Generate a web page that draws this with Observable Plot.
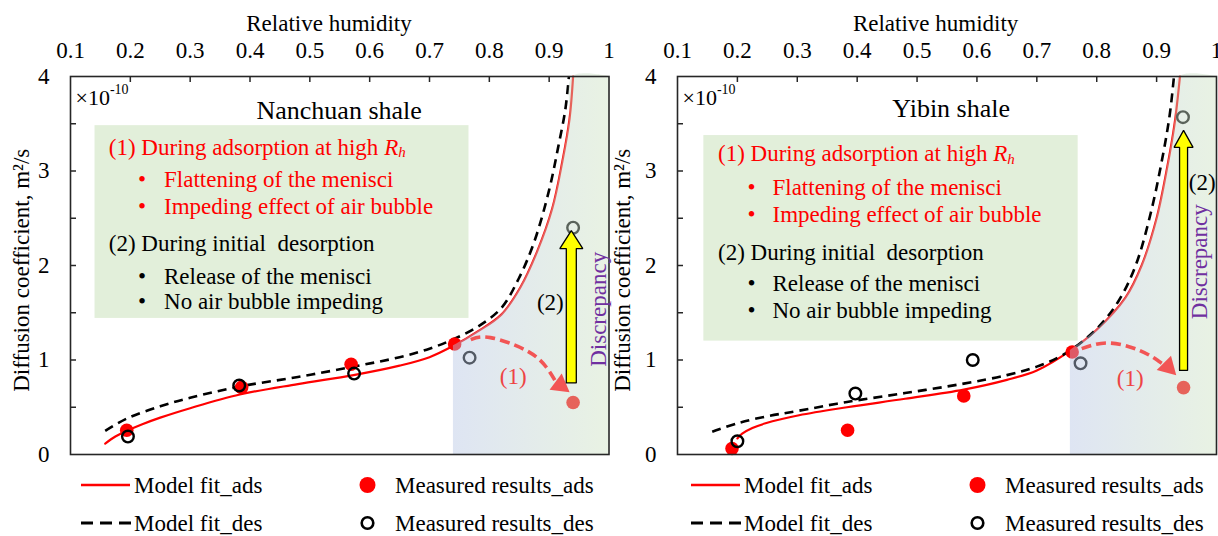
<!DOCTYPE html>
<html>
<head>
<meta charset="utf-8">
<script src="https://cdn.jsdelivr.net/npm/d3@7"></script>
<script src="https://cdn.jsdelivr.net/npm/@observablehq/plot@0.6"></script>
</head>
<body style="margin:0;background:#fff">
<div id="wrap" style="display:flex;width:1218px;height:536px;overflow:hidden"></div>
<script>
const FONT = "Liberation Serif";
const FS = 23;

// ---------- shared axis / text data ----------
const xTickValues = [0.1, 0.2, 0.3, 0.4, 0.5, 0.6, 0.7, 0.8, 0.9, 1];
const xInnerTicks = [0.2, 0.3, 0.4, 0.5, 0.6, 0.7, 0.8, 0.9];
const yTickValues = [0, 1, 2, 3, 4];
const yInnerTicks = [0.5, 1, 1.5, 2, 2.5, 3, 3.5];
const xAxisTitle = "Relative humidity";
const yAxisTitle = "Diffusion coefficient, m²/s";
const legendLabels = ["Model fit_ads", "Model fit_des", "Measured results_ads", "Measured results_des"];
const boxLines = ["(1) During adsorption at high", "Flattening of the menisci", "Impeding effect of air bubble",
                  "(2) During initial  desorption", "Release of the menisci", "No air bubble impeding"];
const boxColors = ["#ff0000", "#ff0000", "#ff0000", "#000000", "#000000", "#000000"];
const boxBullet = [false, true, true, false, true, true];

// ---------- Nanchuan shale ----------
const nanFitAdsX = [0.158, 0.175, 0.194, 0.22, 0.25, 0.30, 0.383, 0.48, 0.573, 0.65, 0.70, 0.74, 0.78, 0.82, 0.852, 0.88, 0.905, 0.922, 0.934, 0.94];
const nanFitAdsY = [0.116, 0.19, 0.25, 0.32, 0.39, 0.49, 0.635, 0.745, 0.84, 0.94, 1.03, 1.15, 1.30, 1.48, 1.77, 2.15, 2.6, 3.1, 3.55, 4.0];
const nanFitDesX = [0.158, 0.194, 0.25, 0.30, 0.383, 0.48, 0.573, 0.65, 0.70, 0.74, 0.78, 0.82, 0.849, 0.875, 0.90, 0.915, 0.927, 0.933];
const nanFitDesY = [0.25, 0.38, 0.51, 0.60, 0.72, 0.82, 0.93, 1.03, 1.12, 1.22, 1.35, 1.55, 1.86, 2.25, 2.8, 3.25, 3.65, 4.0];
const nanAdsX = [0.194, 0.386, 0.569, 0.742, 0.940];
const nanAdsY = [0.257, 0.71, 0.955, 1.17, 0.55];
const nanDesX = [0.196, 0.382, 0.574, 0.767, 0.940];
const nanDesY = [0.19, 0.73, 0.856, 1.025, 2.40];

// ---------- Yibin shale ----------
const yibFitAdsX = [0.200, 0.208, 0.225, 0.247, 0.303, 0.383, 0.48, 0.578, 0.65, 0.70, 0.756, 0.80, 0.848, 0.875, 0.90, 0.918, 0.93, 0.939];
const yibFitAdsY = [0.17, 0.22, 0.28, 0.33, 0.415, 0.50, 0.59, 0.687, 0.79, 0.89, 1.10, 1.32, 1.66, 2.0, 2.5, 3.05, 3.5, 4.0];
const yibFitDesX = [0.158, 0.2, 0.25, 0.3, 0.383, 0.48, 0.578, 0.65, 0.70, 0.748, 0.80, 0.837, 0.865, 0.89, 0.91, 0.922, 0.929];
const yibFitDesY = [0.24, 0.33, 0.405, 0.46, 0.556, 0.65, 0.75, 0.84, 0.93, 1.07, 1.33, 1.63, 2.0, 2.55, 3.15, 3.6, 4.0];
const yibAdsX = [0.191, 0.384, 0.578, 0.759, 0.945];
const yibAdsY = [0.063, 0.257, 0.62, 1.085, 0.708];
const yibDesX = [0.200, 0.397, 0.593, 0.773, 0.944];
const yibDesY = [0.14, 0.645, 1.0, 0.965, 3.57];

// ---------- layout (annotation placement) ----------
const layoutNan = {
  id: "nan", title: "Nanchuan shale", width: 610, ml: 70, mr: 1.5,
  titleX: 0.549, titleY: 3.64, xTitleX: 0.532,
  box: [0.141, 0.766, 1.44, 3.48],
  textX: 0.164, bulletX: 0.2196, itemX: 0.2563,
  lineY: [3.252, 2.907, 2.625, 2.230, 1.885, 1.613],
  shadeStart: 0.74,
  yellow: {x: 0.937, y1: 0.757, y2: 2.37, shaft: 10, head: 23, headLen: 18},
  arc: [[0.769, 1.216], [0.802, 1.237], [0.862, 1.10], [0.895, 0.926], [0.911, 0.77]],
  arcHead: {x: 0.9186, y: 0.734, rotate: 127},
  label1: [0.84, 0.82], label2: [0.902, 1.61], disc: [0.983, 1.536],
  ylabDx: -49, ylabY: 1.95
};
const layoutYib = {
  id: "yib", title: "Yibin shale", width: 608, ml: 67, mr: 2,
  titleX: 0.557, titleY: 3.66, xTitleX: 0.531,
  box: [0.144, 0.769, 1.20, 3.375],
  textX: 0.1676, bulletX: 0.2235, itemX: 0.2586,
  lineY: [3.182, 2.829, 2.540, 2.131, 1.808, 1.518],
  shadeStart: 0.756,
  yellow: {x: 0.945, y1: 0.89, y2: 3.43, shaft: 8, head: 19, headLen: 17},
  arc: [[0.775, 1.12], [0.820, 1.18], [0.872, 1.10], [0.903, 0.99], [0.913, 0.95]],
  arcHead: {x: 0.919, y: 0.925, rotate: 135},
  label1: [0.856, 0.807], label2: [0.976, 2.88], disc: [0.971, 2.04],
  ylabDx: -55, ylabY: 1.95
};

// widths (Times metrics, em) used to place the italic R_h and the exponent
const FIRST_W = 11.971 * FS, R_W = 0.611 * FS, TIMES_W = 1.564 * FS;

function buildPanel(d, L) {
  const H = 464, MT = 76, MB = 10;
  const pxX = 0.9 / (L.width - L.ml - L.mr);
  const pxY = 4 / (H - MT - MB);
  const toPts = (xs, ys) => xs.map((x, i) => ({x, y: ys[i]}));
  const fitAds = toPts(d.fitAdsX, d.fitAdsY);
  const fitDes = toPts(d.fitDesX, d.fitDesY);
  const ads = toPts(d.adsX, d.adsY);
  const des = toPts(d.desX, d.desY);
  const shade = fitAds.filter(p => p.x >= L.shadeStart).map(p => ({x: p.x, y: Math.min(p.y, 4)}));
  shade.push({x: 1, y: 4});
  const ya = L.yellow;
  const sw = ya.shaft / 2 * pxX, hw = ya.head / 2 * pxX, hl = ya.headLen * pxY;
  const arrowPoly = [[ya.x - sw, ya.y1], [ya.x + sw, ya.y1], [ya.x + sw, ya.y2 - hl], [ya.x + hw, ya.y2 - hl],
                     [ya.x, ya.y2], [ya.x - hw, ya.y2 - hl], [ya.x - sw, ya.y2 - hl], [ya.x - sw, ya.y1]];
  const gid = "shade-" + L.id;
  const T = {fontFamily: FONT, fontSize: FS};
  const boxRows = boxLines.map((t, i) => ({t, i}));

  const svg = Plot.plot({
    width: L.width, height: H,
    marginTop: MT, marginBottom: MB, marginLeft: L.ml, marginRight: L.mr,
    style: {background: "transparent", overflow: "visible"},
    x: {domain: [0.1, 1], axis: null},
    y: {domain: [0, 4], axis: null},
    marks: [
      Plot.rect([0], {x1: L.box[0], x2: L.box[1], y1: L.box[2], y2: L.box[3], fill: "#e2efda"}),
      Plot.line(fitAds, {x: "x", y: "y", stroke: "#ff0000", strokeWidth: 2.2, curve: "catmull-rom"}),
      Plot.line(fitDes, {x: "x", y: "y", stroke: "#000", strokeWidth: 2.6, strokeDasharray: "9,6", strokeLinecap: "butt", curve: "catmull-rom"}),
      Plot.dot(ads, {x: "x", y: "y", r: 6.8, fill: "#ff0000"}),
      Plot.dot(des, {x: "x", y: "y", r: 5.8, stroke: "#000", strokeWidth: 2.4, fill: "none"}),
      Plot.areaY(shade, {x: "x", y1: 0, y2: "y", fill: `url(#${gid})`, curve: "catmull-rom"}),
      Plot.frame({stroke: "#262626", strokeWidth: 1.6}),
      Plot.ruleX(xInnerTicks, {x: v => v, y1: 4, y2: 4 - 6 * pxY, stroke: "#262626", strokeWidth: 1.5}),
      Plot.ruleY(yInnerTicks, {y: v => v, x1: 0.1, x2: 0.1 + 6 * pxX, stroke: "#262626", strokeWidth: 1.5}),
      Plot.text(xTickValues, {x: v => v, y: 4, dy: -26, text: v => String(v), ...T}),
      Plot.text(yTickValues, {x: 0.1, y: v => v, dx: -21, textAnchor: "end", text: v => String(v), ...T}),
      Plot.text([xAxisTitle], {x: L.xTitleX, y: 4, dy: -53, text: v => v, ...T}),
      Plot.text([yAxisTitle], {x: 0.1, y: L.ylabY, dx: L.ylabDx, rotate: -90, text: v => v, ...T}),
      Plot.text(["×10"], {x: 0.1, y: 4, dx: 5, dy: 21, textAnchor: "start", text: v => v, fontFamily: FONT, fontSize: 22}),
      Plot.text(["-10"], {x: 0.1, y: 4, dx: 5 + 1.564 * 22, dy: 13, textAnchor: "start", text: v => v, fontFamily: FONT, fontSize: 14}),
      Plot.text([L.title], {x: L.titleX, y: L.titleY, text: v => v, fontFamily: FONT, fontSize: 26}),
      // box text
      Plot.text(boxRows, {x: r => boxBullet[r.i] ? L.itemX : L.textX, y: r => L.lineY[r.i], text: r => r.t,
                          fill: r => boxColors[r.i], textAnchor: "start", ...T}),
      Plot.text(boxRows.filter(r => boxBullet[r.i]), {x: L.bulletX, y: r => L.lineY[r.i], text: () => "•",
                          fill: r => boxColors[r.i], textAnchor: "middle", ...T}),
      Plot.text(["R"], {x: L.textX, y: L.lineY[0], dx: FIRST_W, text: v => v, textAnchor: "start", fill: "#ff0000", fontStyle: "italic", ...T}),
      Plot.text(["h"], {x: L.textX, y: L.lineY[0], dx: FIRST_W + R_W, dy: 5, text: v => v, textAnchor: "start", fill: "#ff0000", fontStyle: "italic", fontFamily: FONT, fontSize: 15}),
      // red dashed curved arrow (1)
      Plot.line(L.arc, {x: p => p[0], y: p => p[1], stroke: "#f25555", strokeWidth: 3.6, strokeDasharray: "10,5", strokeLinecap: "butt", curve: "natural"}),
      Plot.dot([L.arcHead], {x: "x", y: "y", symbol: "triangle", r: 7.5, fill: "#f25555", rotate: L.arcHead.rotate}),
      Plot.text(["(1)"], {x: L.label1[0], y: L.label1[1], text: v => v, fill: "#ee4444", ...T}),
      // yellow arrow (2)
      Plot.line(arrowPoly, {x: p => p[0], y: p => p[1], fill: "#ffff00", stroke: "#000", strokeWidth: 1.3, strokeLinejoin: "miter", curve: "linear"}),
      Plot.text(["(2)"], {x: L.label2[0], y: L.label2[1], text: v => v, fill: "#000", ...T}),
      Plot.text(["Discrepancy"], {x: L.disc[0], y: L.disc[1], rotate: -90, text: v => v, fill: "#7030a0", ...T})
    ]
  });

  const defs = d3.select(svg).insert("defs", ":first-child");
  const grad = defs.append("linearGradient").attr("id", gid).attr("x1", "0").attr("x2", "1").attr("y1", "0").attr("y2", "0");
  grad.append("stop").attr("offset", "0").attr("stop-color", "#b6c5e4").attr("stop-opacity", 0.45);
  grad.append("stop").attr("offset", "1").attr("stop-color", "#cde2c1").attr("stop-opacity", 0.45);
  d3.select(svg).attr("font-family", FONT);

  // legend below the plot
  const lg = d3.create("svg").attr("width", L.width).attr("height", 72).style("display", "block");
  lg.append("line").attr("x1", 81).attr("x2", 130).attr("y1", 21).attr("y2", 21).attr("stroke", "#ff0000").attr("stroke-width", 2.5);
  lg.append("line").attr("x1", 81).attr("x2", 131).attr("y1", 59).attr("y2", 59).attr("stroke", "#000").attr("stroke-width", 3).attr("stroke-dasharray", "12,7");
  lg.append("circle").attr("cx", 367.5).attr("cy", 21).attr("r", 8).attr("fill", "#ff0000");
  lg.append("circle").attr("cx", 367.5).attr("cy", 59).attr("r", 5.8).attr("fill", "none").attr("stroke", "#000").attr("stroke-width", 2.6);
  const lpos = [[134, 21], [134, 59], [395, 21], [395, 59]];
  legendLabels.forEach((t, i) => {
    lg.append("text").attr("x", lpos[i][0]).attr("y", lpos[i][1]).attr("dy", "0.35em")
      .attr("font-family", FONT).attr("font-size", FS).text(t);
  });

  const div = document.createElement("div");
  div.style.width = L.width + "px";
  div.appendChild(svg);
  div.appendChild(lg.node());
  return div;
}

const wrap = document.getElementById("wrap");
wrap.appendChild(buildPanel({fitAdsX: nanFitAdsX, fitAdsY: nanFitAdsY, fitDesX: nanFitDesX, fitDesY: nanFitDesY,
  adsX: nanAdsX, adsY: nanAdsY, desX: nanDesX, desY: nanDesY}, layoutNan));
wrap.appendChild(buildPanel({fitAdsX: yibFitAdsX, fitAdsY: yibFitAdsY, fitDesX: yibFitDesX, fitDesY: yibFitDesY,
  adsX: yibAdsX, adsY: yibAdsY, desX: yibDesX, desY: yibDesY}, layoutYib));
</script>
</body>
</html>
